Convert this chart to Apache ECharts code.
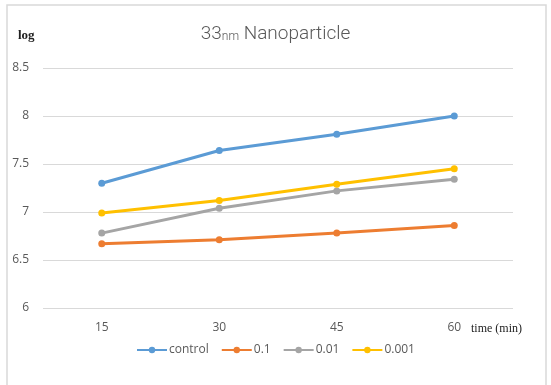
<!DOCTYPE html>
<html>
<head>
<meta charset="utf-8">
<script src="https://cdn.jsdelivr.net/npm/echarts@6/dist/echarts.min.js"></script>
<style>
    html, body { margin: 0; padding: 0; background: #fff; }
    #chart1 { width: 551px; height: 385px; }
</style>
</head>
<body>
<div id="chart1"></div>
<script>
// data
const timeLabels = ['15', '30', '45', '60']
const seriesNames = ['control', '0.1', '0.01', '0.001']
const controlData = [7.30, 7.64, 7.81, 8.00]
const d01Data = [6.67, 6.71, 6.78, 6.86]
const d001Data = [6.78, 7.04, 7.22, 7.34]
const d0001Data = [6.99, 7.12, 7.29, 7.45]
const colors = ['#5b9bd5', '#ed7d31', '#a5a5a5', '#ffc000']

const chart1 = echarts.init(document.getElementById('chart1'))

const narrow = '"Liberation Sans Narrow", "Open Sans", sans-serif'

function makeLine (name, data, color) {
    return {
        name: name,
        type: 'line',
        data: data,
        symbol: 'circle',
        symbolSize: 7,
        lineStyle: { width: 3, color: color },
        itemStyle: { color: color }
    }
}

const option = {
    color: colors,
    animation: false,
    title: {
        text: '{big|33}{small|nm}{big| Nanoparticle}',
        left: 'center',
        top: 20,
        textStyle: {
            fontWeight: 'normal',
            rich: {
                big: { fontFamily: 'Roboto', fontWeight: 300, fontSize: 19, color: '#595959' },
                small: { fontFamily: 'Roboto', fontWeight: 300, fontSize: 12, color: '#595959', padding: [5, 0, 0, 0] }
            }
        }
    },
    graphic: [
        {
            type: 'rect',
            shape: { x: 7, y: 5, width: 539, height: 395 },
            style: { fill: 'none', stroke: '#d9d9d9', lineWidth: 1.5 }
        },
        {
            type: 'text',
            left: 18,
            top: 29,
            style: { text: 'log', font: 'bold 13px "Liberation Serif", serif', fill: '#222' }
        }
    ],
    legend: {
        data: seriesNames,
        bottom: 24,
        left: 'center',
        itemWidth: 30,
        itemHeight: 8,
        itemGap: 12,
        textStyle: { fontFamily: narrow, fontSize: 12, color: '#595959', padding: [0, 0, 0, -3] }
    },
    grid: {
        left: 43,
        right: 38,
        top: 68,
        height: 240,
        containLabel: false
    },
    xAxis: {
        type: 'category',
        data: timeLabels,
        boundaryGap: true,
        name: 'time (min)',
        nameLocation: 'end',
        nameGap: 6,
        nameTextStyle: {
            fontFamily: '"Liberation Serif", serif',
            fontSize: 12,
            color: '#222',
            verticalAlign: 'top',
            padding: [15, 0, 0, -48]
        },
        axisLine: { show: false },
        axisTick: { show: false },
        axisLabel: { fontFamily: narrow, fontSize: 12, color: '#595959', margin: 14 }
    },
    yAxis: {
        type: 'value',
        min: 6,
        max: 8.5,
        interval: 0.5,
        axisLine: { show: false },
        axisTick: { show: false },
        axisLabel: { fontFamily: narrow, fontSize: 12, color: '#595959', margin: 14 },
        splitLine: { lineStyle: { color: '#d9d9d9', width: 1 } }
    },
    series: [
        makeLine(seriesNames[0], controlData, colors[0]),
        makeLine(seriesNames[1], d01Data, colors[1]),
        makeLine(seriesNames[2], d001Data, colors[2]),
        makeLine(seriesNames[3], d0001Data, colors[3])
    ]
}
chart1.setOption(option)
</script>
</body>
</html>
